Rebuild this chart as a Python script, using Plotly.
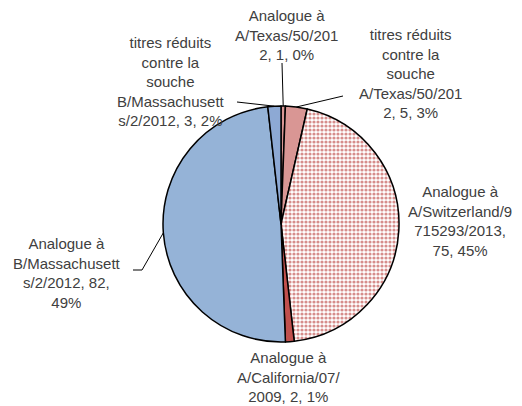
import math
import plotly.graph_objects as go

# Sample counts per antigenic group (clockwise from 12 o'clock)
labels = [
    "Analogue à A/Texas/50/2012",
    "titres réduits contre la souche A/Texas/50/2012",
    "Analogue à A/Switzerland/9715293/2013",
    "Analogue à A/California/07/2009",
    "Analogue à B/Massachusetts/2/2012",
    "titres réduits contre la souche B/Massachusetts/2/2012",
]
values = [1, 5, 75, 2, 82, 3]
percent_text = ["0%", "3%", "45%", "1%", "49%", "2%"]
# wrapped label text; {v} = value, {p} = percentage
label_templates = [
    "Analogue à<br>A/Texas/50/201<br>2, {v}, {p}",
    "titres réduits<br>contre la<br>souche<br>A/Texas/50/201<br>2, {v}, {p}",
    "Analogue à<br>A/Switzerland/9<br>715293/2013,<br>{v}, {p}",
    "Analogue à<br>A/California/07/<br>2009, {v}, {p}",
    "Analogue à<br>B/Massachusett<br>s/2/2012, {v},<br>{p}",
    "titres réduits<br>contre la<br>souche<br>B/Massachusett<br>s/2/2012, {v}, {p}",
]
colors = ["#D99694", "#D99694", "#FFFFFF", "#C0504D", "#95B3D7", "#8DA9D4"]
patterns = ["", "", ".", "", "", ""]

W, H = 522, 406
CX, CY, R = 281, 224, 118  # pie centre / radius in pixels

# label centre and leader-line elbow (pixels) for each slice
label_pos = [(286, 35), (410, 73), (460, 221), (288, 377), (67, 273), (171, 81)]
leader_elbow = [(282, 63), (343, 96), None, None, (142, 270), (237, 102)]
leader_tail = [None, None, None, None, (133, 270), None]


def px_to_paper(x, y):
    return x / W, 1 - y / H


fig = go.Figure(
    go.Pie(
        labels=labels,
        values=values,
        sort=False,
        direction="clockwise",
        rotation=0,
        textinfo="none",
        hoverinfo="label+value+percent",
        marker=dict(
            colors=colors,
            line=dict(color="#000000", width=1.5),
            pattern=dict(
                shape=patterns,
                fgcolor="#C0504D",
                bgcolor="#FFFFFF",
                fgopacity=0.65,
                size=4,
                solidity=0.5,
            ),
        ),
        domain=dict(
            x=[(CX - R) / W, (CX + R) / W],
            y=[1 - (CY + R) / H, 1 - (CY - R) / H],
        ),
        showlegend=False,
    )
)

total = sum(values)
cum = 0
annotations = []
shapes = []
for i, v in enumerate(values):
    mid = (cum + v / 2) / total * 2 * math.pi
    cum += v
    # point on the pie rim at the middle of the slice
    ex = CX + R * math.sin(mid)
    ey = CY - R * math.cos(mid)

    lx, ly = label_pos[i]
    ax, ay = px_to_paper(lx, ly)
    annotations.append(
        dict(
            x=ax, y=ay, xref="paper", yref="paper",
            text=label_templates[i].format(v=v, p=percent_text[i]),
            showarrow=False,
            xanchor="center", yanchor="middle", align="center",
            font=dict(family="Liberation Sans, Arial", size=15, color="#404040"),
        )
    )

    if leader_elbow[i] is not None:
        pts = []
        if leader_tail[i] is not None:
            pts.append(leader_tail[i])
        pts.append(leader_elbow[i])
        pts.append((ex, ey))
        path = "M " + " L ".join(
            "{},{}".format(*px_to_paper(x, y)) for x, y in pts
        )
        shapes.append(
            dict(type="path", xref="paper", yref="paper", path=path,
                 line=dict(color="#000000", width=1))
        )

fig.update_layout(
    width=W,
    height=H,
    margin=dict(l=0, r=0, t=0, b=0),
    paper_bgcolor="#FFFFFF",
    plot_bgcolor="#FFFFFF",
    annotations=annotations,
    shapes=shapes,
)

fig.write_html("out.html")
